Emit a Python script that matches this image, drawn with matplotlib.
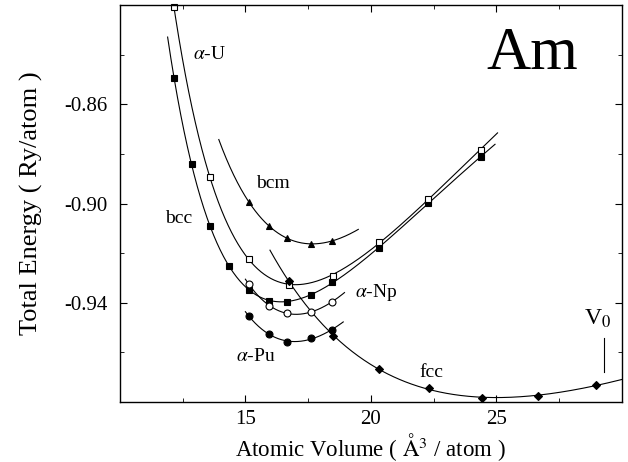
import numpy as np
import matplotlib
matplotlib.use('Agg')
import matplotlib.pyplot as plt
from matplotlib.ticker import MultipleLocator

plt.rcParams['font.family'] = ['Liberation Serif', 'DejaVu Serif']
plt.rcParams['mathtext.fontset'] = 'stix'
plt.rcParams['axes.unicode_minus'] = False

# datos: volumen (A^3/atom) y energia (Ry/atom)
v_bcc = [12.15, 12.87, 13.59, 14.34, 15.14, 15.94, 16.65, 17.61, 18.45, 20.32, 22.27, 24.38]
e_bcc = [-0.8494, -0.8841, -0.9091, -0.9252, -0.9349, -0.9393, -0.9397, -0.9369, -0.9316, -0.9179, -0.8998, -0.8813]

v_aU = [12.15, 13.59, 15.14, 16.73, 18.49, 20.32, 22.27, 24.38]
e_aU = [-0.8208, -0.8893, -0.9224, -0.9329, -0.9292, -0.9155, -0.8982, -0.8784]

v_bcm = [15.14, 15.94, 16.65, 17.61, 18.45]
e_bcm = [-0.8994, -0.9091, -0.9139, -0.9163, -0.9151]

v_aNp = [15.14, 15.94, 16.65, 17.61, 18.45]
e_aNp = [-0.9325, -0.9413, -0.9441, -0.9437, -0.9397]

v_aPu = [15.14, 15.94, 16.65, 17.61, 18.45]
e_aPu = [-0.9454, -0.9526, -0.9558, -0.9542, -0.9510]

v_fcc = [16.73, 18.49, 20.32, 22.31, 24.42, 26.65, 28.96]
e_fcc = [-0.9312, -0.9534, -0.9667, -0.9744, -0.9784, -0.9776, -0.9732]

v0 = 29.28

# rango de cada curva de ajuste
rango = {'bcc': (11.9, 24.95), 'aU': (12.0, 25.05), 'bcm': (13.94, 19.5),
         'aNp': (15.0, 18.95), 'aPu': (15.0, 18.9), 'fcc': (15.98, 30.0)}

series = [
    ('bcc', v_bcc, e_bcc, 's', 'black', 3),
    ('aU', v_aU, e_aU, 's', 'white', 3),
    ('bcm', v_bcm, e_bcm, '^', 'black', 2),
    ('aNp', v_aNp, e_aNp, 'o', 'white', 2),
    ('aPu', v_aPu, e_aPu, 'o', 'black', 2),
    ('fcc', v_fcc, e_fcc, 'D', 'black', 3),
]

fig = plt.figure(figsize=(6.28, 4.62), dpi=100)
ax = fig.add_axes([0.191, 0.130, 0.799, 0.859])

for nombre, v, e, m, fc, grado in series:
    v = np.array(v)
    e = np.array(e)
    # ajuste tipo Birch-Murnaghan: polinomio en V^(-2/3)
    c = np.polyfit(v ** (-2.0 / 3.0), e, grado)
    vv = np.linspace(rango[nombre][0], rango[nombre][1], 300)
    ax.plot(vv, np.polyval(c, vv ** (-2.0 / 3.0)), color='black', lw=0.8, zorder=1)
    ms = 4.2 if m == 'D' else 5
    ax.plot(v, e, m, mfc=fc, mec='black', mew=0.8, ms=ms, zorder=2, clip_on=False)

ax.plot([v0, v0], [-0.9680, -0.9542], color='black', lw=0.8)
ax.text(v0 - 0.25, -0.9508, 'V$_0$', fontsize=17, ha='center', va='bottom')

ax.text(13.55, -0.8400, r'$\alpha$-U', fontsize=14, ha='center', va='center')
ax.text(16.1, -0.8918, 'bcm', fontsize=14, ha='center', va='center')
ax.text(12.35, -0.9060, 'bcc', fontsize=14, ha='center', va='center')
ax.text(20.2, -0.9358, r'$\alpha$-Np', fontsize=14, ha='center', va='center')
ax.text(15.4, -0.9615, r'$\alpha$-Pu', fontsize=14, ha='center', va='center')
ax.text(22.4, -0.9682, 'fcc', fontsize=14, ha='center', va='center')
ax.text(26.45, -0.8398, 'Am', fontsize=44, ha='center', va='center')

ax.set_xlim(10, 30)
ax.set_ylim(-0.98, -0.82)
ax.set_xticks([15, 20, 25])
ax.xaxis.set_minor_locator(MultipleLocator(2.5))
ax.set_yticks([-0.86, -0.90, -0.94])
ax.set_yticklabels(['-0.86', '-0.90', '-0.94'])
ax.yaxis.set_minor_locator(MultipleLocator(0.02))
ax.tick_params(which='both', direction='in', top=True, right=True, labelsize=15)
ax.tick_params(which='major', length=5)
ax.tick_params(which='minor', length=3)
ax.tick_params(axis='x', pad=6)
ax.tick_params(axis='y', pad=9)
for s in ax.spines.values():
    s.set_linewidth(1.0)

ax.set_xlabel('Atomic Volume ( $\\mathrm{\\AA}^3$ / atom )', fontsize=16.5)
ax.xaxis.set_label_coords(0.5, -0.073)
ax.set_ylabel('Total Energy ( Ry/atom )', fontsize=19, labelpad=15)

fig.savefig('out.png', dpi=100)
